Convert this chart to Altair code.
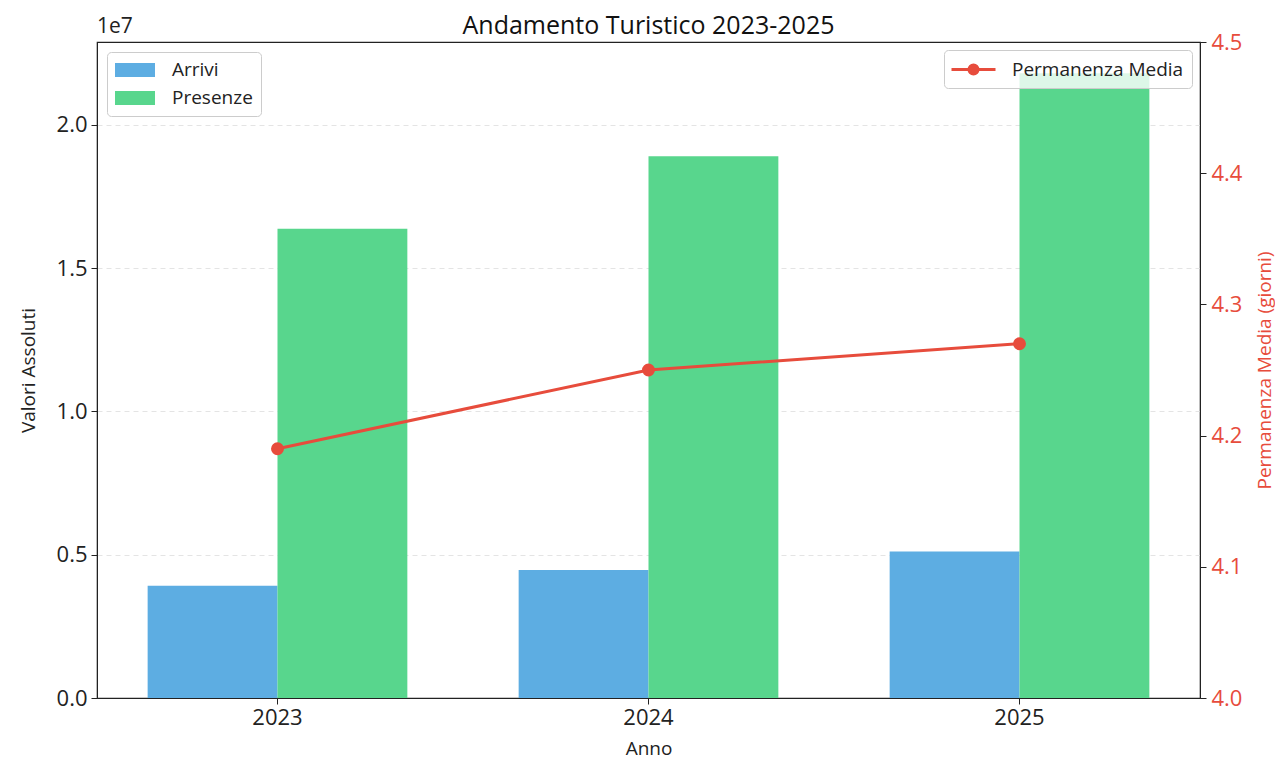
import altair as alt
import pandas as pd

anni = ["2023", "2024", "2025"]
arrivi = [3.92e6, 4.47e6, 5.11e6]
presenze = [1.637e7, 1.890e7, 2.180e7]
permanenza = [4.19, 4.25, 4.27]
serie = ["Arrivi", "Presenze"]
colori_barre = ["#5DADE2", "#58D68D"]
colore_linea = "#E74C3C"
titolo = "Andamento Turistico 2023-2025"
FONT = "Open Sans"

rows = []
for a, v1, v2 in zip(anni, arrivi, presenze):
    rows.append({"Anno": a, "Serie": "Arrivi", "Valore": v1})
    rows.append({"Anno": a, "Serie": "Presenze", "Valore": v2})
df_bar = pd.DataFrame(rows)
df_line = pd.DataFrame({"Anno": anni, "Permanenza": permanenza, "Nome": ["Permanenza Media"] * 3})

x_enc = alt.X(
    "Anno:N",
    title="Anno",
    scale=alt.Scale(paddingInner=0.3, paddingOuter=0.1365),
    axis=alt.Axis(labelAngle=0, labelFontSize=22, titleFontSize=19, labelColor="#222",
                  titleColor="#222", domainColor="#222", tickColor="#222", tickSize=6,
                  labelPadding=3, titlePadding=11, bandPosition=0.5, titleFontWeight="normal"),
)

bars = alt.Chart(df_bar).mark_bar().encode(
    x=x_enc,
    xOffset=alt.XOffset("Serie:N", sort=serie, scale=alt.Scale(paddingInner=0, paddingOuter=0)),
    y=alt.Y(
        "Valore:Q",
        title="Valori Assoluti",
        scale=alt.Scale(domain=[0, 2.289e7], nice=False, zero=True),
        axis=alt.Axis(values=[0, 5e6, 1e7, 1.5e7, 2e7],
                      labelExpr="format(datum.value / 1e7, '.1f')",
                      labelFontSize=22, titleFontSize=19, labelColor="#222", titleColor="#222",
                      domainColor="#222", tickColor="#222", tickSize=6, labelPadding=4,
                      titleX=-69, titleY=328, titleAngle=270, titleAlign="center",
                      titleBaseline="middle",
                      grid=True, gridColor="#dddddd", gridDash=[5, 4],
                      gridWidth=0.8, titleFontWeight="normal", orient="left"),
    ),
    color=alt.Color(
        "Serie:N",
        sort=serie,
        scale=alt.Scale(domain=serie, range=colori_barre),
        legend=alt.Legend(title=None, orient="top-left", offset=10,
                          symbolType="M-2,-0.7H2V0.7H-2Z", symbolSize=400,
                          symbolStrokeWidth=0, symbolOffset=10, labelFontSize=19,
                          labelColor="#222", labelOffset=27, padding=8, rowPadding=8,
                          labelLimit=300,
                          fillColor="rgba(255,255,255,0.8)", strokeColor="#cccccc",
                          cornerRadius=4),
    ),
)

line = alt.Chart(df_line).mark_line(
    strokeWidth=3,
    point=alt.OverlayMarkDef(size=120, filled=True, color=colore_linea, opacity=1),
).encode(
    x=alt.X("Anno:N"),
    y=alt.Y(
        "Permanenza:Q",
        title="Permanenza Media (giorni)",
        scale=alt.Scale(domain=[4.0, 4.5], nice=False, zero=False),
        axis=alt.Axis(orient="right", values=[4.0, 4.1, 4.2, 4.3, 4.4, 4.5], format=".1f",
                      labelFontSize=22, titleFontSize=19, labelColor=colore_linea,
                      titleColor=colore_linea, domainColor="#222", tickColor="#222",
                      tickSize=6, labelPadding=5, grid=False,
                      titleX=64, titleY=328, titleAngle=270, titleAlign="center",
                      titleBaseline="middle", titleFontWeight="normal"),
    ),
    stroke=alt.Stroke(
        "Nome:N",
        scale=alt.Scale(domain=["Permanenza Media"], range=[colore_linea]),
        legend=alt.Legend(title=None, orient="top-right", offset=8,
                          symbolType="M-2.2,0H2.2M0.45,0A0.45,0.45,0,1,1,-0.45,0A0.45,0.45,0,1,1,0.45,0",
                          symbolSize=400, symbolStrokeWidth=3, symbolFillColor=colore_linea,
                          symbolStrokeColor=colore_linea, symbolOffset=10, labelFontSize=19,
                          labelColor="#222", labelOffset=27, padding=8, labelLimit=300,
                          fillColor="rgba(255,255,255,0.8)", strokeColor="#cccccc",
                          cornerRadius=4),
    ),
)

label_1e7 = alt.Chart(pd.DataFrame({"t": ["1e7"]})).mark_text(
    align="left", baseline="bottom", fontSize=21, color="#222", font=FONT
).encode(x=alt.value(0), y=alt.value(-5), text="t:N")

title_mark = alt.Chart(pd.DataFrame({"t": [titolo]})).mark_text(
    align="center", baseline="middle", fontSize=25, color="#111", font=FONT
).encode(x=alt.value(551.5), y=alt.value(-16), text="t:N")

chart = alt.layer(bars, label_1e7, title_mark, line).resolve_scale(
    y="independent", color="independent"
).properties(
    width=1103,
    height=656,
    autosize=alt.AutoSizeParams(type="none"),
    padding={"left": 89, "top": 34, "right": 75, "bottom": 64},
).configure(font=FONT).configure_view(stroke="#222", strokeWidth=1.2)

chart.save("out.html", embed_options={"renderer": "svg", "actions": False})
